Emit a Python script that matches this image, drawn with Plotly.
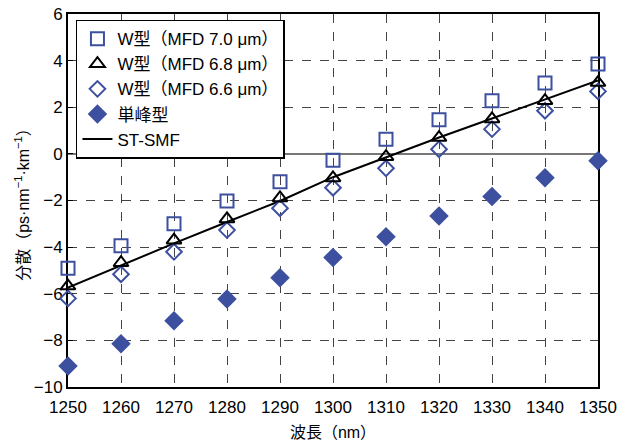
import plotly.graph_objects as go

wavelength = [1250, 1260, 1270, 1280, 1290, 1300, 1310, 1320, 1330, 1340, 1350]
w70 = [-4.91, -3.94, -3.0, -2.02, -1.2, -0.27, 0.63, 1.46, 2.28, 3.04, 3.85]
w68 = [-5.67, -4.67, -3.7, -2.79, -1.89, -1.03, -0.12, 0.70, 1.50, 2.28, 3.06]
w66 = [-6.2, -5.16, -4.2, -3.27, -2.33, -1.45, -0.62, 0.20, 1.06, 1.85, 2.68]
single = [-9.1, -8.14, -7.16, -6.23, -5.31, -4.44, -3.55, -2.66, -1.83, -1.02, -0.29]
stsmf = [-5.73, -4.78, -3.84, -2.92, -2.02, -1.0, -0.14, 0.70, 1.52, 2.34, 3.15]

names = ["W型（MFD 7.0 μm）", "W型（MFD 6.8 μm）", "W型（MFD 6.6 μm）", "単峰型", "ST-SMF"]
blue = "#3D4F9F"
font_family = "Liberation Sans, Arial, Noto Sans CJK JP, sans-serif"

fig = go.Figure()
fig.add_trace(go.Scatter(x=wavelength, y=stsmf, mode="lines", name=names[4],
                         line=dict(color="black", width=2), cliponaxis=False, legendrank=5))
fig.add_trace(go.Scatter(x=wavelength, y=w70, mode="markers", name=names[0], cliponaxis=False,
                         marker=dict(symbol="square-open", size=13, color=blue, line=dict(width=2)), legendrank=1))
fig.add_trace(go.Scatter(x=wavelength, y=w66, mode="markers", name=names[2], cliponaxis=False,
                         marker=dict(symbol="diamond-open", size=12, color=blue, line=dict(width=2)), legendrank=3))
fig.add_trace(go.Scatter(x=wavelength, y=w68, mode="markers", name=names[1], cliponaxis=False,
                         marker=dict(symbol="triangle-up-open", size=13, color="black", line=dict(width=2)), legendrank=2))
fig.add_trace(go.Scatter(x=wavelength, y=single, mode="markers", name=names[3], cliponaxis=False,
                         marker=dict(symbol="diamond", size=15, color=blue), legendrank=4))

fig.update_layout(
    width=632, height=441,
    margin=dict(l=68, r=34, t=14, b=54, autoexpand=False),
    paper_bgcolor="white", plot_bgcolor="white",
    font=dict(family=font_family, size=17, color="black"),
    showlegend=True,
    legend=dict(x=0.015, y=0.985, xanchor="left", yanchor="top",
                bgcolor="white", bordercolor="black", borderwidth=1.5,
                font=dict(size=17), tracegroupgap=0, itemwidth=30),
)
fig.update_xaxes(
    range=[1250, 1350], tickvals=wavelength, ticktext=[str(v) for v in wavelength],
    showline=True, linecolor="black", linewidth=2, mirror=True, automargin=False,
    showgrid=True, gridcolor="#444444", griddash="dash", gridwidth=1,
    ticks="", zeroline=False, layer="below traces", tickfont=dict(size=17), ticklabelstandoff=4,
    title=dict(text="波長（nm）", standoff=10, font=dict(size=16)),
)
fig.update_yaxes(
    range=[-10, 6], tickvals=[-10, -8, -6, -4, -2, 0, 2, 4, 6],
    ticktext=["−10", "−8", "−6", "−4", "−2", "0", "2", "4", "6"],
    showline=True, linecolor="black", linewidth=2, mirror=True, automargin=False,
    showgrid=True, gridcolor="#444444", griddash="dash", gridwidth=1,
    ticks="inside", ticklen=5, tickcolor="black", tickfont=dict(size=17),
    zeroline=True, zerolinecolor="#777777", zerolinewidth=1.5, layer="below traces",
    title=dict(text="分散（ps·nm<sup>−1</sup>·km<sup>−1</sup>）", standoff=0, font=dict(size=16)),
)

fig.write_html("out.html")
